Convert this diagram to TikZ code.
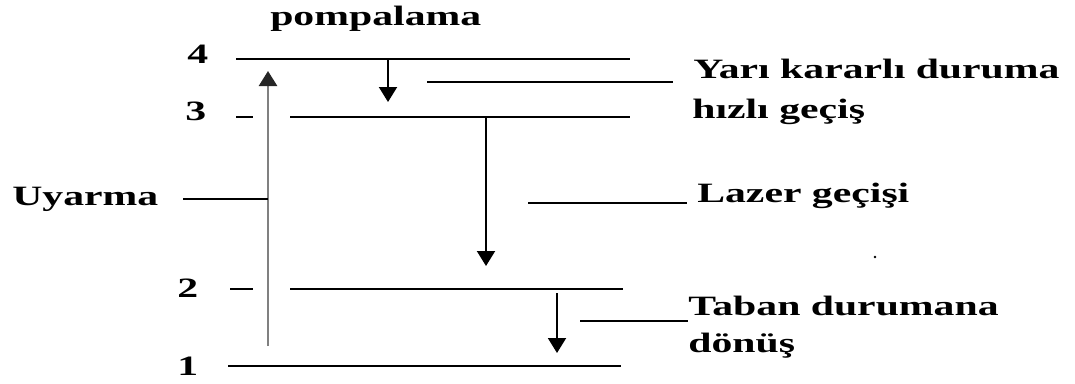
\documentclass[tikz,border=0pt]{standalone}
\usepackage{fontspec}
\setmainfont{Liberation Serif}
\usetikzlibrary{arrows.meta}
\begin{document}
\begin{tikzpicture}[x=1pt,y=-1pt,
  lbl/.style={font=\fontsize{28}{30}\selectfont\bfseries, inner sep=0pt, anchor=base west, transform shape, xscale=1.49},
  level/.style={line width=2pt},
  leader/.style={line width=1.7pt},
  down/.style={line width=2pt, -{Triangle[width=18pt,length=15pt]}},
  pump/.style={line width=2.6pt, draw=black!50, -{Triangle[width=18pt,length=15pt,color=black!85]}}]
\useasboundingbox (0,0) rectangle (1075,383);

% level labels
\node[lbl] (n4) at (187,63) {4};
\node[lbl] (n3) at (185,120) {3};
\node[lbl] (n2) at (177,297) {2};
\node[lbl] (n1) at (177,375) {1};

% energy levels
\coordinate (l4a) at (236,59);  \coordinate (l4b) at (630,59);
\coordinate (t3a) at (236,117); \coordinate (t3b) at (253,117);
\coordinate (l3a) at (290,117); \coordinate (l3b) at (630,117);
\coordinate (t2a) at (230,289); \coordinate (t2b) at (253,289);
\coordinate (l2a) at (290,289); \coordinate (l2b) at (623,289);
\coordinate (l1a) at (228,366); \coordinate (l1b) at (621,366);
\draw[level] (l4a) -- (l4b);
\draw[level] (t3a) -- (t3b);
\draw[level] (l3a) -- (l3b);
\draw[level] (t2a) -- (t2b);
\draw[level] (l2a) -- (l2b);
\draw[level] (l1a) -- (l1b);

% text labels
\node[lbl] (pomp) at (270,25) {pompalama};
\node[lbl] (uy) at (12,205) {Uyarma};
\node[lbl] (yari) at (693,78) {Yarı kararlı duruma};
\node[lbl] (hizli) at (692,118) {hızlı geçiş};
\node[lbl] (lazer) at (697,202) {Lazer geçişi};
\node[lbl] (taban) at (688,315) {Taban durumana};
\node[lbl] (donus) at (688,352) {dönüş};

% transitions
\coordinate (ua) at (268,346); \coordinate (ub) at (268,71);
\draw[pump] (ua) -- (ub);
\coordinate (fa) at (388,59);  \coordinate (fb) at (388,102);
\draw[down] (fa) -- (fb);
\coordinate (la) at (486,117); \coordinate (lb) at (486,266);
\draw[down] (la) -- (lb);
\coordinate (ga) at (557,293); \coordinate (gb) at (557,353);
\draw[down] (ga) -- (gb);

% leader lines
\coordinate (uyl) at (183,199); \coordinate (uyr) at (268,199);
\draw[leader] (uyl) -- (uyr);
\coordinate (yl) at (427,82); \coordinate (yr) at (673,82);
\draw[leader] (yl) -- (yr);
\coordinate (zl) at (528,203); \coordinate (zr) at (687,203);
\draw[leader] (zl) -- (zr);
\coordinate (bl) at (580,321); \coordinate (br) at (688,321);
\draw[leader] (bl) -- (br);

% stray dot
\fill (875,257) circle (1.3pt);
\end{tikzpicture}
\end{document}
